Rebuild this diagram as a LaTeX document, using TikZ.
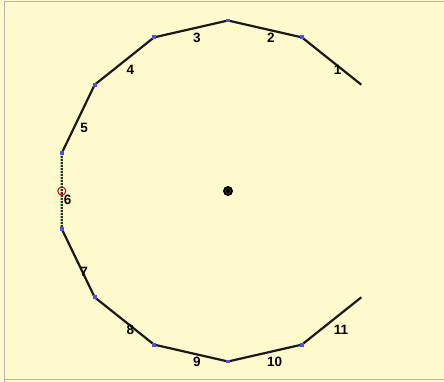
\documentclass[tikz,border=0pt]{standalone}
\usepackage{fontspec}
\setmainfont{Liberation Sans}
\usetikzlibrary{calc}
\definecolor{bgyellow}{RGB}{255,250,205}
\definecolor{dotblue}{RGB}{80,80,220}
\definecolor{seggreen}{RGB}{30,60,30}
\begin{document}
\begin{tikzpicture}[x=1pt,y=1pt,
  seg/.style={line width=2.2pt,black!90},
  segdash/.style={line width=2.2pt,seggreen,dash pattern=on 2pt off 1pt},
  vdot/.style={fill=dotblue,inner sep=0pt,minimum size=3.8pt,rectangle,draw=none},
  lbl/.style={anchor=west,inner sep=0pt,font=\fontsize{13.5}{14}\selectfont\bfseries}]
\fill[bgyellow] (0,0) rectangle (444,-382);
\useasboundingbox (0,0) rectangle (444,-382);
\draw[gray!60,line width=1pt] (4,-382) -- (4,-2) -- (444,-2);
\draw[gray!60,line width=1pt] (4,-379) -- (444,-379);
\coordinate (C) at (228,-191);
\foreach \k in {0,...,11}{
  \coordinate (P\k) at ($(C)+({38.5714+25.7143*\k}:170.5)$);
}
\foreach \i [evaluate=\i as \j using int(\i-1)] in {1,2,3,4,5,7,8,9,10,11}{
  \draw[seg] (P\j) -- (P\i);
}
\draw[segdash] (P5) -- (P6);
\foreach \i/\t [evaluate=\i as \j using int(\i-1)] in {1/1,2/2,3/3,4/4,5/5,6/6,7/7,8/8,9/9,10/10,11/11}{
  \coordinate (M\i) at ($(P\j)!0.5!(P\i)$);
  \node[lbl] (L\i) at ($(M\i)+(2,-9)$) {\t};
}
\foreach \k in {1,...,10}{
  \node[vdot] (D\k) at (P\k) {};
}
\node[circle,draw=red!80!black,line width=1pt,minimum size=8pt,inner sep=0pt] (R) at (M6) {};
\node[circle,fill=black,minimum size=10pt,inner sep=0pt] (O) at (C) {};
\draw[gray!50!black,line width=0.6pt] (C) circle (2.5pt);
\end{tikzpicture}
\end{document}
